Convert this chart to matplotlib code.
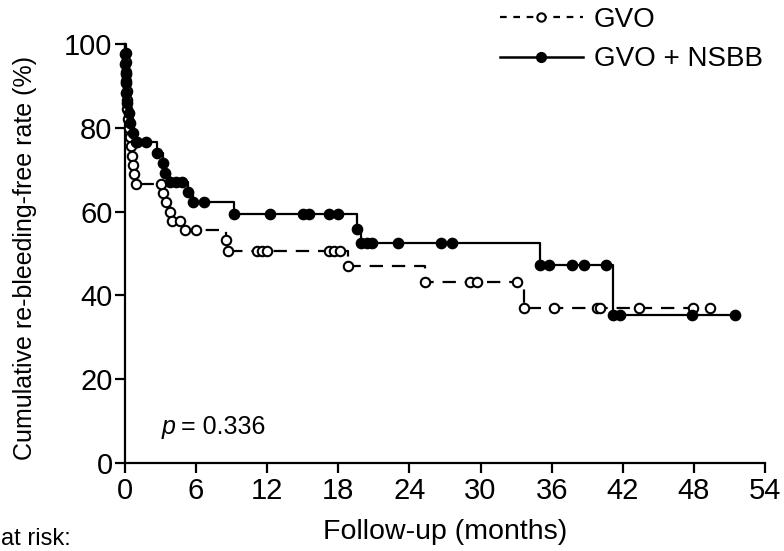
import numpy as np
import matplotlib
matplotlib.use("Agg")
import matplotlib.pyplot as plt
from matplotlib.lines import Line2D

# ---------------- data ----------------
# GVO group: event times (months) and survival (%) after each event
gvo_event_t = [0.05, 0.08, 0.10, 0.12, 0.15, 0.18, 0.20, 0.25, 0.30, 0.40,
               0.50, 0.60, 0.70, 0.80, 0.90, 3.2, 3.5, 3.8, 4.0, 5.1,
               8.5, 8.7, 18.8, 25.3, 33.7]
gvo_event_s = [97.8, 95.6, 93.3, 91.1, 88.9, 86.7, 84.4, 82.2, 80.0, 77.8,
               75.6, 73.3, 71.1, 68.9, 66.7, 64.4, 62.2, 60.0, 57.8, 55.6,
               53.2, 50.6, 47.0, 43.2, 36.9]
gvo_censor_t = [3.0, 4.6, 6.0, 11.1, 11.6, 12.0, 17.2, 17.6, 18.1, 29.1,
                29.7, 33.1, 36.2, 39.8, 40.1, 43.4, 47.9, 49.4]

# GVO + NSBB group
nsbb_event_t = [0.02, 0.04, 0.06, 0.08, 0.12, 0.18, 0.30, 0.45, 0.65, 0.90,
                2.7, 3.2, 3.4, 3.8, 5.3, 5.7, 9.2, 19.6, 19.9, 35.0, 41.2]
nsbb_event_s = [97.6, 95.3, 92.9, 90.6, 88.2, 85.9, 83.5, 81.2, 78.8, 76.5,
                74.1, 71.7, 69.3, 67.0, 64.7, 62.3, 59.5, 55.9, 52.4, 47.2, 35.4]
nsbb_censor_t = [1.0, 1.8, 4.3, 4.8, 6.7, 12.2, 15.0, 15.5, 17.2, 18.0,
                 20.4, 20.8, 23.0, 26.7, 27.6, 35.8, 37.7, 38.7, 40.6,
                 41.8, 47.8, 51.5]

x_ticks = [0, 6, 12, 18, 24, 30, 36, 42, 48, 54]
y_ticks = [0, 20, 40, 60, 80, 100]
p_text = "= 0.336"
labels = ["GVO", "GVO + NSBB"]

# ---------------- helpers ----------------
def km_curve(ev_t, ev_s, cen_t):
    ev_t = np.asarray(ev_t, float)
    ev_s = np.asarray(ev_s, float)
    cen_t = np.asarray(cen_t, float)
    end = max(ev_t.max(), cen_t.max())
    t = np.concatenate([[0.0], ev_t, [end]])
    s = np.concatenate([[100.0], ev_s, [ev_s[-1]]])
    idx = np.searchsorted(ev_t, cen_t, side="right")
    s_full = np.concatenate([[100.0], ev_s])
    cen_s = s_full[idx]
    return t, s, cen_s

plt.rcParams["font.family"] = ["Liberation Sans", "DejaVu Sans"]

W, H = 784, 551
fig = plt.figure(figsize=(W / 100, H / 100), dpi=100)
ax = fig.add_axes([125 / W, 1 - 463 / H, (765 - 125) / W, (463 - 44) / H])

lw = 1.6
# GVO
t, s, cs = km_curve(gvo_event_t, gvo_event_s, gvo_censor_t)
ax.step(t, s, where="post", color="black", lw=lw, linestyle=(0, (6, 4)),
        clip_on=False, zorder=2)
mk_open = dict(marker="o", ms=6.8, mfc="white", mec="black", mew=1.5,
               linestyle="none", clip_on=False, zorder=3)
ax.plot(gvo_event_t, gvo_event_s, **mk_open)
ax.plot(gvo_censor_t, cs, **mk_open)

# GVO + NSBB
t, s, cs = km_curve(nsbb_event_t, nsbb_event_s, nsbb_censor_t)
ax.step(t, s, where="post", color="black", lw=lw, linestyle="-",
        clip_on=False, zorder=4)
mk_fill = dict(marker="o", ms=7.4, mfc="black", mec="black", mew=1,
               linestyle="none", clip_on=False, zorder=5)
ax.plot(nsbb_event_t, nsbb_event_s, **mk_fill)
ax.plot(nsbb_censor_t, cs, **mk_fill)

ax.set_xlim(0, 54)
ax.set_ylim(0, 100)
ax.set_xticks(x_ticks)
ax.set_yticks(y_ticks)
ax.set_xticklabels([str(v) for v in x_ticks], fontsize=21)
ax.set_yticklabels([str(v) for v in y_ticks], fontsize=21)
for side in ["top", "right"]:
    ax.spines[side].set_visible(False)
for side in ["left", "bottom"]:
    ax.spines[side].set_linewidth(1.6)
ax.tick_params(axis="both", direction="out", length=7, width=1.6, color="black")
ax.tick_params(axis="x", pad=3)
ax.tick_params(axis="y", pad=2)

ax.set_xlabel("Follow-up (months)", fontsize=20.5, labelpad=10)
ax.set_ylabel("Cumulative re-bleeding-free rate (%)", fontsize=18, labelpad=2)
ax.yaxis.set_label_coords(-0.137, 0.49)

ax.text(0.058, 0.085, "p", transform=ax.transAxes, fontsize=18,
        style="italic", va="center", ha="left")
ax.text(0.088, 0.085, p_text, transform=ax.transAxes, fontsize=18,
        va="center", ha="left")

handles = [
    Line2D([], [], color="black", lw=1.6, linestyle=(0, (3, 3)), marker="o",
           ms=6, mfc="white", mec="black", mew=1.5),
    Line2D([], [], color="black", lw=1.8, linestyle="-", marker="o",
           ms=7, mfc="black", mec="black"),
]
fig.legend(handles, labels, loc="upper left",
           bbox_to_anchor=(494 / W, 1 - 1 / H), frameon=False,
           fontsize=20, handlelength=3.0, handletextpad=0.4,
           labelspacing=0.5, borderaxespad=0, borderpad=0.2)

fig.text(1 / W, 1 / H, "at risk:", fontsize=17, ha="left", va="bottom")

fig.savefig("out.png", dpi=100)
